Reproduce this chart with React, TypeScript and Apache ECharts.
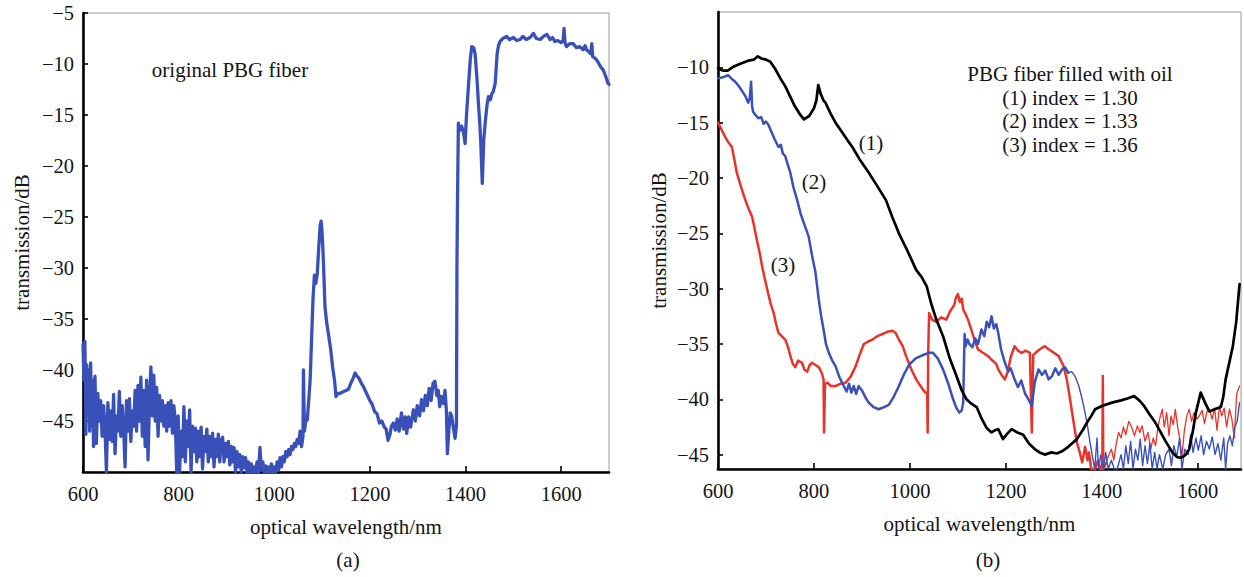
import React, { useEffect, useRef } from "react";
import * as echarts from "echarts";

// ---------- data (wavelength nm, transmission dB) ----------
const originalPBG: [number, number][] = [
  [600,-37.5],[602,-41],[604,-37.2],[606,-46.3],[608,-39.5],[610,-44],[612,-40],[614,-46],[616,-39.3],[618,-45.5],
  [620,-41],[622,-47.5],[625,-40.6],[628,-47.2],[631,-42.3],[634,-45],[637,-43],[640,-46.5],[643,-43.5],[646,-45.8],
  [649,-50],[652,-43.2],[655,-46.8],[658,-44],[661,-47],[664,-42.4],[667,-48.2],[670,-44.5],[673,-46],[676,-42.1],
  [679,-46.5],[682,-43.5],[685,-45.8],[688,-49.5],[691,-43],[694,-46],[697,-42.8],[700,-47],[703,-44],[706,-45.5],
  [709,-42],[712,-46],[715,-41.5],[718,-45],[721,-40.7],[724,-46.5],[727,-42],[730,-47.5],[733,-41],[736,-48.8],
  [739,-43],[742,-39.7],[745,-44.5],[748,-40.5],[751,-45],[754,-41.7],[757,-46.5],[760,-42.5],[763,-45],[766,-43],
  [769,-45.5],[772,-43.5],[775,-46],[778,-43.2],[781,-45.5],[784,-43],[787,-46.2],[790,-43.5],[793,-45],[796,-50],
  [799,-44.5],[802,-50],[805,-46],[808,-48.5],[811,-43.6],[814,-49],[817,-45],[820,-47.5],[823,-43.9],[826,-50],
  [829,-45.5],[832,-48],[835,-45.7],[838,-49],[841,-46],[844,-48.5],[847,-45.6],[850,-49.7],[853,-46.5],[856,-48],
  [859,-45.8],[862,-49],[865,-46.5],[868,-48.5],[871,-46.2],[874,-49.5],[877,-46.8],[880,-48.5],[883,-46.3],[886,-49],
  [889,-47],[892,-46.6],[895,-49],[898,-47.2],[901,-48.5],[904,-47],[907,-49.3],[910,-47.5],[913,-49],[916,-47.6],
  [919,-50],[922,-48],[925,-49.5],[928,-48.3],[931,-50],[934,-48.5],[937,-49.6],[940,-48.6],[943,-50],[946,-49],
  [949,-50],[952,-49.2],[955,-50],[958,-49.5],[961,-50],[964,-49],[967,-50],[970,-47.6],[973,-49.8],[976,-49],
  [979,-50],[982,-49.4],[985,-50],[988,-49.5],[991,-50],[994,-49.2],[997,-50],[1000,-49.5],[1003,-50],[1006,-49],
  [1009,-49.8],[1012,-48.6],[1015,-49.5],[1018,-48.5],[1021,-49],[1024,-48],[1027,-48.5],[1030,-47.8],[1033,-48.3],
  [1036,-47.5],[1039,-47.8],[1042,-47.2],[1045,-47.5],[1048,-46.8],[1051,-47.2],[1054,-46],[1057,-47.5],[1060,-46.5],
  [1061,-40],[1063,-46],[1066,-45],[1069,-44.9],[1072,-43],[1075,-41],[1078,-37],[1081,-33],[1084,-30.7],[1087,-31.5],
  [1090,-30.5],[1093,-28],[1096,-25.8],[1098,-25.4],[1100,-26.5],[1102,-28.5],[1104,-31],[1106,-33.8],[1110,-35.5],
  [1114,-36.7],[1118,-38],[1122,-39.7],[1126,-41],[1129,-42.6],[1133,-42.3],[1137,-42.3],[1141,-42.2],[1145,-42.1],
  [1150,-42],[1155,-41.9],[1160,-41.3],[1165,-40.8],[1169,-40.3],[1173,-40.6],[1177,-40.8],[1181,-41.2],[1186,-41.6],
  [1190,-42],[1195,-42.5],[1200,-43],[1205,-43.4],[1210,-44.1],[1215,-44.3],[1220,-45.2],[1225,-45],[1230,-45.6],
  [1234,-45.8],[1238,-46.9],[1242,-46.3],[1245,-45.5],[1249,-45.2],[1253,-45.9],[1257,-44.8],[1261,-46],[1266,-44.2],
  [1270,-45.8],[1274,-44.6],[1277,-46.2],[1281,-44.6],[1285,-45.6],[1291,-43.9],[1295,-45],[1299,-43.5],[1304,-44.5],
  [1308,-42.9],[1312,-44],[1316,-42.5],[1320,-43.5],[1324,-41.8],[1328,-43],[1332,-41.3],[1336,-41.1],[1340,-42.5],
  [1343,-42],[1346,-43.6],[1350,-42.6],[1354,-43.3],[1357,-42],[1360,-44],[1362,-48.2],[1365,-46],[1368,-44.2],
  [1371,-44.5],[1374,-45.5],[1378,-46.7],[1381,-45.5],[1382,-30],[1383,-24.3],[1385,-15.8],[1388,-16.5],[1392,-16.1],
  [1396,-16.8],[1399,-17.8],[1402,-15],[1406,-12.2],[1410,-9.5],[1413,-8.3],[1417,-8.4],[1420,-9],[1424,-11.5],
  [1427,-13.9],[1430,-16],[1432,-17.8],[1435,-21.7],[1438,-17.5],[1441,-15.8],[1445,-14],[1448,-13.2],[1452,-13.5],
  [1455,-12.9],[1458,-12.7],[1462,-11.9],[1464,-10.5],[1466,-9],[1469,-8.2],[1472,-7.8],[1478,-7.5],[1486,-7.3],
  [1492,-7.6],[1500,-7.4],[1507,-7.7],[1514,-7.6],[1520,-7.3],[1527,-7.6],[1535,-7.4],[1542,-7],[1548,-7.5],
  [1556,-7.6],[1563,-7.3],[1570,-7.1],[1577,-7.6],[1582,-7.4],[1587,-7.8],[1593,-7.7],[1600,-7.9],[1604,-7.7],
  [1606,-6.5],[1608,-7.9],[1611,-8.3],[1618,-8],[1625,-8],[1632,-8.4],[1639,-8.3],[1646,-8.6],[1650,-8.2],
  [1653,-8.6],[1658,-8.8],[1662,-9],[1664,-8],[1666,-9.3],[1670,-9.4],[1674,-9.6],[1678,-9.9],[1683,-10.3],
  [1688,-10.6],[1693,-11.2],[1698,-11.9],[1700,-12],
];

const oilIndex130: [number, number][] = [
  [600,-10.1],[610,-10.3],[620,-10.3],[630,-10],[645,-9.7],[663,-9.4],[675,-9.3],[683,-9.0],[690,-9.2],[700,-9.3],
  [709,-9.5],[720,-10.2],[730,-11],[740,-11.7],[750,-12.6],[760,-13.5],[770,-14.2],[779,-14.7],[790,-14.4],[800,-13.7],
  [805,-13],[809,-11.6],[814,-12.4],[820,-13],[824,-13.2],[835,-14.2],[845,-15],[859,-15.9],[870,-16.6],[880,-17.2],
  [895,-18.3],[914,-19.5],[930,-20.6],[950,-22],[963,-23.5],[977,-25],[995,-26.6],[1013,-28.3],[1025,-29],[1035,-29.8],
  [1044,-31.3],[1055,-32.8],[1069,-34.3],[1083,-36.3],[1097,-37.9],[1108,-39.2],[1118,-40],[1128,-40.4],[1139,-40.7],
  [1150,-41.8],[1160,-42.6],[1170,-43],[1177,-42.8],[1184,-42.7],[1194,-43.6],[1203,-43.1],[1212,-42.7],[1224,-43],
  [1236,-43.2],[1248,-44],[1260,-44.5],[1270,-44.8],[1281,-45],[1295,-44.8],[1306,-44.9],[1317,-44.7],[1330,-44.3],
  [1348,-43.6],[1360,-42.8],[1369,-42.1],[1378,-41.5],[1386,-40.9],[1400,-40.6],[1421,-40.3],[1440,-40.1],[1455,-39.9],
  [1467,-39.7],[1478,-40.1],[1488,-40.6],[1500,-41.4],[1510,-42],[1519,-42.7],[1533,-43.8],[1547,-44.8],[1556,-45.2],
  [1565,-45.3],[1575,-45],[1582,-44.5],[1590,-42.8],[1596,-41.2],[1606,-39.4],[1615,-40.3],[1624,-41.1],[1635,-40.9],
  [1648,-40.7],[1653,-39.8],[1658,-38.2],[1665,-36.8],[1673,-35.2],[1680,-33],[1687,-29.6],
];

const oilIndex133: [number, number][] = [
  [600,-11],[610,-10.9],[621,-10.7],[630,-11.1],[636,-11.3],[645,-11.8],[657,-12.6],[663,-13.2],[666,-12.8],[669,-11.3],
  [671,-13.5],[673,-14],[678,-14.3],[684,-14.6],[690,-14.5],[695,-15.1],[700,-14.9],[705,-15.2],[712,-15.9],[718,-16.5],
  [726,-17.2],[731,-17],[735,-17.8],[740,-18],[744,-18.6],[750,-19.4],[757,-20.8],[765,-22],[772,-23.2],[780,-24.2],
  [789,-25.3],[796,-27],[803,-28.5],[810,-31],[815,-32.5],[820,-33.7],[825,-35],[831,-35.8],[838,-36.5],[845,-37],
  [853,-38],[862,-38.8],[868,-39.3],[873,-38.6],[878,-39.4],[883,-38.8],[888,-39.5],[893,-38.8],[900,-39.2],[907,-39.8],
  [914,-40.3],[924,-40.7],[935,-40.9],[946,-40.7],[956,-40.5],[966,-39.8],[977,-38.8],[987,-37.8],[998,-36.9],[1012,-36.3],
  [1027,-36],[1040,-35.8],[1048,-35.8],[1058,-36.3],[1069,-37.3],[1080,-38.6],[1090,-40],[1097,-40.8],[1103,-41.2],
  [1108,-41],[1111,-40.3],[1113,-36],[1114,-34.1],[1116,-35.2],[1120,-34.6],[1124,-35],[1130,-35.3],[1136,-34.5],
  [1142,-35],[1149,-33.7],[1155,-34.3],[1160,-33],[1165,-33.5],[1170,-32.5],[1175,-33.6],[1180,-33.2],[1184,-34],
  [1190,-35.5],[1198,-36.7],[1205,-37.5],[1210,-37.2],[1218,-38.2],[1225,-38.9],[1232,-38.3],[1240,-39.5],[1247,-40],
  [1254,-40.6],[1260,-38.5],[1268,-37.3],[1275,-37.8],[1282,-37.4],[1289,-38.2],[1296,-37.9],[1303,-37.2],[1310,-37.8],
  [1317,-37.3],[1323,-37.1],[1330,-37.6],[1337,-37.5],[1344,-37.9],[1352,-38.8],[1359,-40],[1364,-41],[1369,-42.1],
  [1375,-43.8],[1380,-45.1],[1385,-46.3],[1390,-43.5],[1393,-46.3],[1398,-45],[1403,-46.3],[1408,-44.8],[1413,-46.3],
  [1420,-45.5],[1426,-46.3],[1432,-46.3],[1440,-45],[1445,-46.3],[1450,-44.2],[1455,-45.8],[1460,-43.8],[1465,-46.3],
  [1470,-44.5],[1475,-45.5],[1480,-43.6],[1485,-46],[1490,-44.2],[1495,-45.8],[1500,-44],[1505,-46.3],[1510,-44.8],
  [1515,-46.3],[1520,-45],[1527,-46.3],[1533,-45],[1540,-44.5],[1545,-46],[1550,-44.2],[1556,-45.2],[1562,-43.5],
  [1567,-46.3],[1573,-44.5],[1580,-45],[1585,-43.2],[1590,-44.8],[1596,-43.5],[1601,-44.6],[1607,-43.3],[1612,-45],
  [1618,-43.8],[1624,-44.5],[1630,-43.4],[1636,-45],[1642,-44],[1648,-45.5],[1654,-43.5],[1658,-46.3],[1662,-44],
  [1667,-43.3],[1672,-44.2],[1677,-42.5],[1682,-42],[1687,-40.3],
];

const oilIndex136: [number, number][] = [
  [600,-15],[607,-15.6],[615,-16.3],[622,-16.8],[629,-17.2],[634,-18.3],[639,-19.5],[648,-20.8],[657,-22],[664,-22.8],
  [671,-23.5],[676,-24.5],[681,-25.6],[687,-26.8],[692,-28],[698,-29.2],[705,-30.5],[710,-31.4],[716,-32.2],[721,-33.2],
  [726,-34],[733,-34.3],[740,-34.6],[746,-35.3],[751,-36.1],[756,-36.8],[761,-37.1],[767,-36.5],[775,-36.7],[780,-37.3],
  [786,-37.5],[791,-36.9],[796,-36.7],[803,-36.9],[810,-37.1],[816,-37.6],[820,-38.2],[821,-43],[823,-38.6],[828,-38.5],
  [835,-38.8],[845,-38.8],[855,-38.6],[866,-38.5],[876,-38],[887,-37],[895,-36],[904,-35],[912,-34.8],[922,-34.6],
  [932,-34.3],[943,-34.1],[953,-33.9],[964,-33.8],[970,-34],[977,-34.6],[985,-35.2],[992,-36.1],[1002,-37.2],[1013,-38.2],
  [1022,-38.8],[1030,-39.3],[1036,-39.5],[1037,-43],[1038,-36],[1040,-32.2],[1046,-32.8],[1055,-33],[1065,-32.6],
  [1076,-32.8],[1082,-32.2],[1086,-31.9],[1092,-31.5],[1096,-30.8],[1100,-30.5],[1104,-31.2],[1108,-30.9],[1111,-31.9],
  [1116,-32.3],[1121,-32.8],[1130,-34],[1136,-34.8],[1142,-35.5],[1152,-35.8],[1163,-36.1],[1172,-36.5],[1180,-36.8],
  [1184,-37.3],[1191,-37.8],[1198,-38.2],[1204,-37.5],[1210,-36.2],[1218,-35.2],[1225,-35.6],[1233,-35.8],[1241,-35.6],
  [1250,-35.8],[1254,-43],[1257,-36],[1262,-35.8],[1270,-35.5],[1281,-35.2],[1290,-35.5],[1300,-35.8],[1310,-36.1],
  [1320,-37],[1327,-38.2],[1333,-39.8],[1338,-41.2],[1343,-42.6],[1348,-43.9],[1354,-44.8],[1359,-45.7],[1365,-44.3],
  [1370,-45.5],[1373,-44.8],[1378,-46.3],[1386,-46.3],[1392,-45.5],[1397,-46.3],[1401,-46.3],[1402,-37.9],[1403,-46.3],
  [1408,-45.8],[1414,-45.1],[1420,-44.5],[1425,-45.5],[1430,-44],[1435,-43],[1440,-43.5],[1445,-42.5],[1450,-43.2],
  [1456,-42],[1462,-42.5],[1468,-43.3],[1474,-42.4],[1479,-43],[1484,-42.4],[1490,-43.8],[1496,-43],[1502,-44.5],
  [1507,-43.5],[1512,-44.2],[1517,-42.5],[1522,-41.5],[1526,-40.9],[1530,-42.5],[1535,-41.2],[1540,-43.3],[1544,-41.5],
  [1549,-42.3],[1553,-40.9],[1558,-42.5],[1562,-43.5],[1567,-45.1],[1572,-42.8],[1577,-41.5],[1582,-40.9],[1587,-42],
  [1592,-41.2],[1598,-41.8],[1603,-41.5],[1609,-41],[1614,-42.2],[1619,-41.1],[1624,-40.9],[1630,-41.8],[1635,-40.8],
  [1640,-42.8],[1645,-40.6],[1650,-41.5],[1655,-40.8],[1660,-42.5],[1666,-40.9],[1671,-41.8],[1676,-43.5],[1681,-39.5],
  [1687,-38.8],
];

const xTicksA = [600, 800, 1000, 1200, 1400, 1600];
const yTicksA = [-45, -40, -35, -30, -25, -20, -15, -10, -5];
const xTicksB = [600, 800, 1000, 1200, 1400, 1600];
const yTicksB = [-45, -40, -35, -30, -25, -20, -15, -10];

const legendLines = [
  "PBG fiber filled with oil",
  "(1) index = 1.30",
  "(2) index = 1.33",
  "(3) index = 1.36",
];

const FONT = '"Liberation Serif", "Times New Roman", serif';
const BLUE = "#3a50b9";
const RED = "#e8332b";
const INK = "#141414";
const TICK_SIZE = 20.5;
const TEXT_SIZE = 21;

const fmtNum = (v: number) => (v < 0 ? "\u2212" + Math.abs(v) : String(v));

function makeXAxis(gridIndex: number, min: number, max: number, ticks: number[]) {
  return {
    type: "value",
    gridIndex,
    min,
    max,
    interval: 200,
    name: "optical wavelength/nm",
    nameLocation: "middle",
    nameGap: 44,
    nameTextStyle: { fontFamily: FONT, fontSize: TEXT_SIZE, color: INK },
    axisLine: { show: true, onZero: false, lineStyle: { color: "#000", width: 2.6 } },
    axisTick: { show: true, inside: true, length: 6, customValues: ticks, lineStyle: { color: "#000", width: 1.6 } },
    axisLabel: {
      customValues: ticks,
      margin: 11,
      fontFamily: FONT,
      fontSize: TICK_SIZE,
      color: INK,
      formatter: (v: number) => (ticks.indexOf(v) >= 0 ? fmtNum(v) : ""),
    },
    splitLine: { show: false },
  };
}

function makeYAxis(gridIndex: number, min: number, max: number, ticks: number[], nameGap: number) {
  return {
    type: "value",
    gridIndex,
    min,
    max,
    splitNumber: 8,
    name: "transmission/dB",
    nameLocation: "middle",
    nameGap,
    nameTextStyle: { fontFamily: FONT, fontSize: TEXT_SIZE, color: INK },
    axisLine: { show: true, onZero: false, lineStyle: { color: "#000", width: 2.6 } },
    axisTick: { show: true, inside: true, length: 5, customValues: ticks, lineStyle: { color: "#000", width: 1.6 } },
    axisLabel: {
      customValues: ticks,
      margin: 9,
      fontFamily: FONT,
      fontSize: TICK_SIZE,
      color: INK,
      formatter: (v: number) => (ticks.indexOf(v) >= 0 ? fmtNum(v) : ""),
    },
    splitLine: { show: false },
  };
}

function lineSeries(data: [number, number][], idx: number, color: string, width: number, z = 2) {
  return {
    type: "line",
    xAxisIndex: idx,
    yAxisIndex: idx,
    data,
    showSymbol: false,
    symbol: "none",
    clip: true,
    z,
    lineStyle: { color, width, join: "round", cap: "round" },
  };
}

function txt(text: string, x: number, y: number, size = TEXT_SIZE) {
  return {
    type: "text",
    x,
    y,
    z: 100,
    style: {
      text,
      fontFamily: FONT,
      fontSize: size,
      fill: INK,
      align: "center",
      verticalAlign: "middle",
    },
  };
}

export default function App() {
  const ref = useRef<HTMLDivElement>(null);

  useEffect(() => {
    document.body.style.margin = "0";
    if (!ref.current) return;
    const chart = echarts.init(ref.current, undefined, { renderer: "svg" });

    const thick133 = oilIndex133.filter((p) => p[0] <= 1330);
    const thin133 = oilIndex133.filter((p) => p[0] >= 1330);
    const thick136 = oilIndex136.filter((p) => p[0] <= 1408);
    const thin136 = oilIndex136.filter((p) => p[0] >= 1408);

    chart.setOption({
      animation: false,
      backgroundColor: "#ffffff",
      grid: [
        { left: 83, top: 13, width: 526, height: 459, show: true, borderColor: "#9a9a9a", borderWidth: 1, backgroundColor: "transparent" },
        { left: 718, top: 12, width: 523, height: 457, show: true, borderColor: "#9a9a9a", borderWidth: 1, backgroundColor: "transparent" },
      ],
      xAxis: [makeXAxis(0, 600, 1700, xTicksA), makeXAxis(1, 600, 1690, xTicksB)],
      yAxis: [makeYAxis(0, -50, -5, yTicksA, 51), makeYAxis(1, -46.3, -5, yTicksB, 49)],
      series: [
        lineSeries(originalPBG, 0, BLUE, 3.3),
        lineSeries(thick136, 1, RED, 2.5, 3),
        lineSeries(thin136, 1, RED, 1.3, 3),
        lineSeries(thick133, 1, BLUE, 2.5, 4),
        lineSeries(thin133, 1, BLUE, 1.4, 4),
        lineSeries(oilIndex130, 1, "#000000", 2.7, 5),
      ],
      graphic: [
        txt("original PBG fiber", 230, 70),
        ...legendLines.map((t, i) => txt(t, 1070, 74 + i * 23.7)),
        txt("(1)", 871, 143),
        txt("(2)", 814, 182),
        txt("(3)", 783, 265),
        txt("(a)", 348, 560),
        txt("(b)", 988, 560),
      ],
    });

    return () => chart.dispose();
  }, []);

  return <div ref={ref} style={{ width: 1244, height: 577 }} />;
}
